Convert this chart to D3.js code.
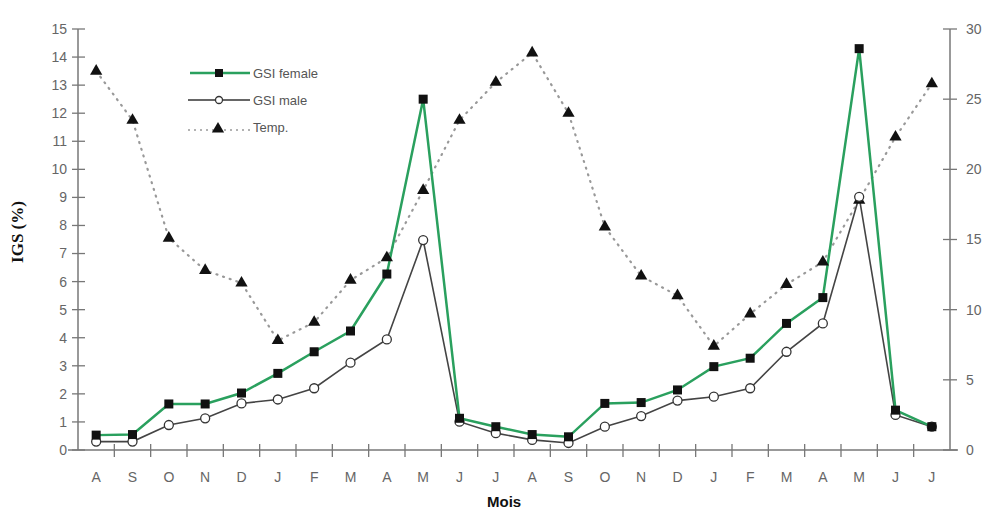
<!DOCTYPE html>
<head>
	<script src="https://d3js.org/d3.v7.min.js"></script>
	<style>
		body { margin: 0; background: #fff; }
		.tick-label { font-family: "Liberation Sans", Arial, sans-serif; font-size: 14px; fill: #666; }
		.legend { font-family: "Liberation Sans", Arial, sans-serif; font-size: 13px; fill: #555; }
	</style>
</head>
<body>
	<script>
		// data
		var months = ["A","S","O","N","D","J","F","M","A","M","J","J",
		              "A","S","O","N","D","J","F","M","A","M","J","J"];
		var gsiFemale = [0.53, 0.55, 1.64, 1.64, 2.03, 2.73, 3.5, 4.24, 6.27, 12.5, 1.13, 0.83,
		                 0.55, 0.47, 1.66, 1.69, 2.14, 2.97, 3.27, 4.51, 5.43, 14.3, 1.42, 0.83];
		var gsiMale = [0.3, 0.3, 0.89, 1.13, 1.66, 1.8, 2.2, 3.11, 3.94, 7.48, 1.01, 0.6,
		               0.36, 0.25, 0.83, 1.21, 1.76, 1.9, 2.2, 3.5, 4.51, 9.02, 1.25, 0.83];
		var temp = [27, 23.5, 15.1, 12.8, 11.9, 7.8, 9.1, 12.1, 13.7, 18.5, 23.5, 26.2,
		            28.3, 24, 15.9, 12.4, 11, 7.4, 9.7, 11.8, 13.4, 17.8, 22.3, 26.1];
		var leftTicks = d3.range(0, 16);
		var rightTicks = [0, 5, 10, 15, 20, 25, 30];

		var width = 989, height = 513;
		var axisColor = "#777", green = "#2aa05e";

		var svg = d3.select("body").append("svg")
			.attr("width", width).attr("height", height);

		// scales
		var idx = d3.range(months.length);
		var x = d3.scaleBand().domain(idx).range([78, 950]);
		var yL = d3.scaleLinear().domain([0, 15]).range([450, 29]);
		var yR = d3.scaleLinear().domain([0, 30]).range([450, 29]);
		var cx = function(i) { return x(i) + x.bandwidth() / 2; };

		// axes
		var g = svg.append("g");
		g.append("line").attr("x1", 68).attr("x2", 958).attr("y1", yL(0)).attr("y2", yL(0))
			.attr("stroke", axisColor).attr("stroke-width", 1.5);
		g.append("line").attr("x1", 78).attr("x2", 78).attr("y1", yL(15)).attr("y2", yL(0))
			.attr("stroke", axisColor).attr("stroke-width", 1.5);
		g.append("line").attr("x1", 950).attr("x2", 950).attr("y1", yR(30)).attr("y2", yR(0))
			.attr("stroke", axisColor).attr("stroke-width", 1.5);

		g.selectAll(".lt").data(leftTicks).enter().append("line")
			.attr("x1", 72).attr("x2", 85)
			.attr("y1", function(d) { return yL(d); }).attr("y2", function(d) { return yL(d); })
			.attr("stroke", axisColor).attr("stroke-width", 1.3);
		g.selectAll(".ltl").data(leftTicks).enter().append("text")
			.attr("class", "tick-label")
			.attr("x", 67).attr("y", function(d) { return yL(d); })
			.attr("dy", "0.35em").attr("text-anchor", "end")
			.text(function(d) { return d; });

		g.selectAll(".rt").data(rightTicks).enter().append("line")
			.attr("x1", 943).attr("x2", 957)
			.attr("y1", function(d) { return yR(d); }).attr("y2", function(d) { return yR(d); })
			.attr("stroke", axisColor).attr("stroke-width", 1.3);
		g.selectAll(".rtl").data(rightTicks).enter().append("text")
			.attr("class", "tick-label")
			.attr("x", 966).attr("y", function(d) { return yR(d); })
			.attr("dy", "0.35em")
			.text(function(d) { return d; });

		// x ticks at month boundaries
		g.selectAll(".xt").data(idx.slice(1)).enter().append("line")
			.attr("x1", function(d) { return x(d); }).attr("x2", function(d) { return x(d); })
			.attr("y1", 444).attr("y2", 457)
			.attr("stroke", axisColor).attr("stroke-width", 1.3);
		g.selectAll(".xtl").data(idx).enter().append("text")
			.attr("class", "tick-label")
			.attr("x", function(i) { return cx(i); }).attr("y", 477)
			.attr("dy", "0.35em").attr("text-anchor", "middle")
			.text(function(i) { return months[i]; });

		// titles
		svg.append("text").text("Mois")
			.attr("x", 487).attr("y", 507)
			.attr("font-family", "Liberation Sans, Arial, sans-serif")
			.attr("font-weight", "bold").attr("font-size", 15).attr("fill", "#111");
		svg.append("text").text("IGS (%)")
			.attr("transform", "translate(23,232) rotate(-90)")
			.attr("text-anchor", "middle")
			.attr("font-family", "Liberation Serif, Times New Roman, serif")
			.attr("font-weight", "bold").attr("font-size", 17).attr("fill", "#111");

		// lines
		var lineL = d3.line().x(function(d, i) { return cx(i); }).y(function(d) { return yL(d); });
		var lineR = d3.line().x(function(d, i) { return cx(i); }).y(function(d) { return yR(d); });

		svg.append("path").attr("d", lineR(temp))
			.attr("fill", "none").attr("stroke", "#999").attr("stroke-width", 2.2)
			.attr("stroke-dasharray", "1,6").attr("stroke-linecap", "round");
		svg.append("path").attr("d", lineL(gsiMale))
			.attr("fill", "none").attr("stroke", "#444").attr("stroke-width", 1.6);
		svg.append("path").attr("d", lineL(gsiFemale))
			.attr("fill", "none").attr("stroke", green).attr("stroke-width", 2.5);

		var tri = d3.symbol().type(d3.symbolTriangle).size(65);
		svg.selectAll(".tri").data(temp).enter().append("path")
			.attr("d", tri)
			.attr("transform", function(d, i) { return "translate(" + [cx(i), yR(d)] + ")"; })
			.attr("fill", "#111");
		svg.selectAll(".circ").data(gsiMale).enter().append("circle")
			.attr("cx", function(d, i) { return cx(i); }).attr("cy", function(d) { return yL(d); })
			.attr("r", 4.5).attr("fill", "#fff").attr("stroke", "#333").attr("stroke-width", 1.3);
		svg.selectAll(".sq").data(gsiFemale).enter().append("rect")
			.attr("x", function(d, i) { return cx(i) - 4.5; }).attr("y", function(d) { return yL(d) - 4.5; })
			.attr("width", 9).attr("height", 9).attr("fill", "#111");

		// legend
		var lg = svg.append("g");
		lg.append("line").attr("x1", 190).attr("x2", 250).attr("y1", 73).attr("y2", 73)
			.attr("stroke", green).attr("stroke-width", 2.5);
		lg.append("rect").attr("x", 215).attr("y", 69).attr("width", 8).attr("height", 8).attr("fill", "#111");
		lg.append("text").attr("class", "legend").attr("x", 253).attr("y", 73).attr("dy", "0.35em").text("GSI female");

		lg.append("line").attr("x1", 188).attr("x2", 250).attr("y1", 100).attr("y2", 100)
			.attr("stroke", "#333").attr("stroke-width", 1.6);
		lg.append("circle").attr("cx", 219).attr("cy", 100).attr("r", 3.5)
			.attr("fill", "#fff").attr("stroke", "#333").attr("stroke-width", 1.3);
		lg.append("text").attr("class", "legend").attr("x", 253).attr("y", 100).attr("dy", "0.35em").text("GSI male");

		lg.append("line").attr("x1", 188).attr("x2", 250).attr("y1", 130).attr("y2", 130)
			.attr("stroke", "#999").attr("stroke-width", 1.6).attr("stroke-dasharray", "2,4");
		lg.append("path").attr("d", tri).attr("transform", "translate(218,129)").attr("fill", "#111");
		lg.append("text").attr("class", "legend").attr("x", 253).attr("y", 127).attr("dy", "0.35em").text("Temp.")
	</script>
</body>
</html>
